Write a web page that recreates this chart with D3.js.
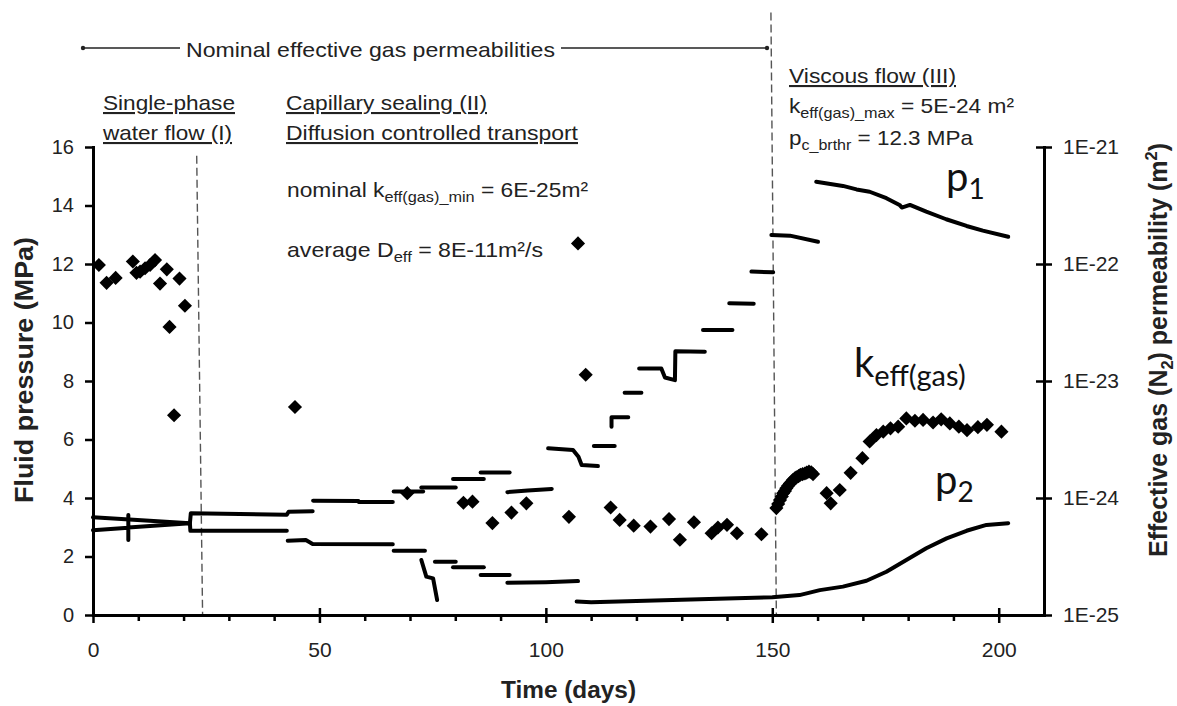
<!DOCTYPE html>
<html>
<head>
<meta charset="utf-8">
<script src="https://cdn.jsdelivr.net/npm/d3@7"></script>
<style>
	body{margin:0;background:#fff;}
	svg{display:block;font-family:Arial,"Liberation Sans",sans-serif;}
	.axis path,.axis line{stroke:#000;}
	.axis path{stroke-width:3;stroke-linecap:square;}
	.axis line{stroke-width:2.5;}
	.axis text{fill:#222;font-family:Arial,"Liberation Sans",sans-serif;}
	.note{fill:#222;}
	.big{fill:#111;font-family:Lato,"Open Sans",sans-serif;}
	.pline{fill:none;stroke:#000;stroke-width:4;stroke-linejoin:round;stroke-linecap:round;}
	.bound{stroke:#555;stroke-width:1.4;stroke-dasharray:8,4;}
</style>
</head>
<body>
<script>
(function(){

	//upstream pressure p1, one array per logged step [day, MPa]
	var p1Segments = [
		[[0,3.34],[21.4,3.14],[21.6,3.48],[42.8,3.43],[43.2,3.53],[48.5,3.55]],
		[[48.6,3.91],[58.6,3.90],[58.7,3.86],[66.2,3.86]],
		[[66.4,4.22],[72.9,4.22]],
		[[72.5,4.36],[80.1,4.36]],
		[[79.5,4.65],[86.3,4.65]],
		[[85.6,4.87],[92.0,4.87]],
		[[91.5,4.20],[96.0,4.26],[101.3,4.31]],
		[[100.5,5.70],[106.0,5.64],[107.2,5.41],[107.9,5.13],[111.5,5.09]],
		[[110.6,5.78],[115.2,5.78]],
		[[114.5,6.44],[114.5,6.76],[118.2,6.76]],
		[[117.4,7.60],[121.1,7.60]],
		[[120.6,8.43],[125.5,8.43],[126.3,8.12],[128.5,8.03],[128.6,9.02],[135.1,9.00]],
		[[134.7,9.74],[141.2,9.74]],
		[[140.5,10.66],[145.9,10.64]],
		[[145.4,11.74],[150.2,11.72]],
		[[149.8,12.99],[153.9,12.97],[160.1,12.76]],
		[[159.7,14.81],[165.6,14.67],[168.6,14.55],[171.5,14.47],[175.2,14.25],[178.1,14.02],[178.6,13.93],[180.4,14.02],[184.0,13.79],[188.4,13.53],[192.9,13.30],[196.5,13.14],[202.1,12.93]]
	];

	//downstream pressure p2
	var p2Segments = [
		[[0,2.90],[7.8,2.98],[7.8,2.56],[7.8,3.42],[7.8,2.99],[21.4,3.14],[21.5,2.88],[42.8,2.88]],
		[[43.0,2.54],[47.0,2.56],[48.5,2.43],[66.2,2.42]],
		[[66.4,2.20],[73.3,2.20]],
		[[72.5,1.88],[73.6,1.31],[75.1,1.25],[76.0,0.51]],
		[[75.5,1.82],[80.1,1.82]],
		[[79.5,1.63],[86.3,1.63]],
		[[85.6,1.37],[92.0,1.37]],
		[[91.5,1.10],[100.0,1.12],[107.1,1.16]],
		[[106.8,0.46],[110,0.44],[120,0.48],[130,0.52],[140,0.56],[150,0.61],[156,0.68],[160.5,0.85],[165.6,0.97],[170.8,1.17],[175.2,1.48],[179.6,1.88],[184.0,2.28],[188.5,2.62],[192.9,2.88],[197.3,3.08],[202.1,3.14]]
	];

	//effective gas permeability (m2), right axis
	var keffDays = [1.3,3.0,5.0,8.8,9.6,10.4,11.5,12.6,13.7,14.8,16.3,16.9,17.9,19.1,20.3,
		44.6,69.4,81.8,83.8,88.2,92.4,95.7,105.1,107.1,108.8,114.3,116.3,119.4,123.1,127.2,
		129.6,132.7,136.6,138.0,140.0,142.2,147.6,150.9,151.3,151.7,152.1,152.4,152.8,153.1,153.5,153.9,154.3,154.6,155.0,155.3,
		155.8,156.2,156.7,157.2,157.6,158.1,158.6,159.0,162.0,162.9,164.9,167.3,169.9,171.5,173.0,174.5,176.1,177.8,
		179.6,181.5,183.3,185.5,187.3,189.2,191.2,193.0,195.4,197.4,200.6];
	var keffValues = [9.8e-23,6.9e-23,7.6e-23,1.05e-22,8.4e-23,8.6e-23,9.2e-23,9.8e-23,1.08e-22,6.8e-23,9.0e-23,2.9e-23,5.1e-24,7.5e-23,4.4e-23,
		6.0e-24,1.1e-24,9.1e-25,9.3e-25,6.1e-25,7.5e-25,9.0e-25,6.9e-25,1.5e-22,1.13e-23,8.3e-25,6.5e-25,5.8e-25,5.7e-25,6.6e-25,
		4.4e-25,6.2e-25,5.0e-25,5.6e-25,5.9e-25,5.0e-25,4.9e-25,8.2e-25,8.9e-25,9.6e-25,1.03e-24,1.1e-24,1.15e-24,1.21e-24,1.27e-24,1.33e-24,1.38e-24,1.43e-24,1.47e-24,1.5e-24,
		1.54e-24,1.58e-24,1.6e-24,1.62e-24,1.65e-24,1.68e-24,1.66e-24,1.6e-24,1.1e-24,9.0e-25,1.17e-24,1.64e-24,2.19e-24,3.04e-24,3.45e-24,3.69e-24,3.94e-24,4.07e-24,
		4.79e-24,4.57e-24,4.65e-24,4.42e-24,4.7e-24,4.34e-24,4.07e-24,3.8e-24,4.03e-24,4.22e-24,3.69e-24];

	//ticks
	var xTicks = [0,50,100,150,200];
	var xMinorTicks = [10,20,30,40,60,70,80,90,110,120,130,140,160,170,180,190];
	var yLeftTicks = [0,2,4,6,8,10,12,14,16];
	var yRightTicks = [1e-25,1e-24,1e-23,1e-22,1e-21];

	//phase boundaries [day at top, MPa at top, day at bottom, MPa at bottom]
	var phaseBounds = [[22.9,15.7,24.2,0],[149.7,20.6,150.9,0]];

	var width = 1177,
		height = 706,
		left = 93,
		right = 1044,
		top = 147,
		bottom = 615;

	var svg = d3.select("body")
		.append("svg")
		.attr("width", width)
		.attr("height", height);

	var x = d3.scaleLinear().domain([0,210]).range([left,right]);
	var yL = d3.scaleLinear().domain([0,16]).range([bottom,top]);
	var yR = d3.scaleLog().domain([1e-25,1e-21]).range([bottom,top]);

	//dashed phase boundaries
	svg.selectAll(".bound")
		.data(phaseBounds)
		.enter()
		.append("line")
		.attr("class", "bound")
		.attr("x1", function(d){ return x(d[0]); })
		.attr("y1", function(d){ return yL(d[1]); })
		.attr("x2", function(d){ return x(d[2]); })
		.attr("y2", function(d){ return yL(d[3]); });

	//pressure lines
	var line = d3.line()
		.x(function(d){ return x(d[0]); })
		.y(function(d){ return yL(d[1]); });

	svg.selectAll(".p1")
		.data(p1Segments)
		.enter()
		.append("path")
		.attr("class", "pline p1")
		.attr("d", line);

	svg.selectAll(".p2")
		.data(p2Segments)
		.enter()
		.append("path")
		.attr("class", "pline p2")
		.attr("d", line);

	//permeability diamonds
	var diamond = d3.symbol().type(d3.symbolSquare).size(100);
	svg.selectAll(".keff")
		.data(keffDays)
		.enter()
		.append("path")
		.attr("class", "keff")
		.attr("d", diamond)
		.attr("fill", "#000")
		.attr("transform", function(d, i){
			return "translate(" + x(d) + "," + yR(keffValues[i]) + ") rotate(45)";
		});

	//x axis
	var xAxis = svg.append("g")
		.attr("class", "axis")
		.attr("transform", "translate(0," + bottom + ")")
		.call(d3.axisBottom(x).tickValues(xTicks).tickSize(8).tickSizeOuter(0).tickPadding(19));
	xAxis.selectAll(".tick line").attr("y1", -7);
	xAxis.selectAll("text").style("font-size", "21px");

	svg.append("g")
		.attr("class", "axis minor")
		.attr("transform", "translate(0," + bottom + ")")
		.call(d3.axisBottom(x).tickValues(xMinorTicks).tickSize(6).tickFormat(""))
		.select(".domain").remove();

	//left axis
	var leftAxis = svg.append("g")
		.attr("class", "axis")
		.attr("transform", "translate(" + left + ",0)")
		.call(d3.axisLeft(yL).tickValues(yLeftTicks).tickSize(8).tickSizeOuter(0).tickPadding(11));
	leftAxis.selectAll("text").style("font-size", "20px");

	//right axis
	var rightAxis = svg.append("g")
		.attr("class", "axis")
		.attr("transform", "translate(" + right + ",0)")
		.call(d3.axisRight(yR).tickValues(yRightTicks).tickSize(8).tickSizeOuter(0).tickPadding(11)
			.tickFormat(function(d){ return "1E" + Math.round(Math.log10(d)); }));
	rightAxis.selectAll(".tick line").attr("x1", -8);
	rightAxis.selectAll("text").style("font-size", "21px");

	//axis titles
	svg.append("text")
		.attr("x", (left + right) / 2)
		.attr("y", 698)
		.attr("text-anchor", "middle")
		.style("font-size", "23px")
		.style("font-weight", "bold")
		.attr("fill", "#222")
		.attr("textLength", 135)
		.attr("lengthAdjust", "spacingAndGlyphs")
		.text("Time (days)");

	svg.append("text")
		.attr("transform", "translate(33,370) rotate(-90)")
		.attr("text-anchor", "middle")
		.style("font-size", "26px")
		.style("font-weight", "bold")
		.attr("fill", "#222")
		.attr("textLength", 266)
		.attr("lengthAdjust", "spacingAndGlyphs")
		.text("Fluid pressure (MPa)");

	var rTitle = svg.append("text")
		.attr("transform", "translate(1167,350) rotate(-90)")
		.attr("text-anchor", "middle")
		.style("font-size", "26px")
		.style("font-weight", "bold")
		.attr("fill", "#222")
		.attr("textLength", 414)
		.attr("lengthAdjust", "spacingAndGlyphs");
	rTitle.append("tspan").text("Effective gas (N");
	rTitle.append("tspan").text("2").attr("dy", 6).style("font-size", "17px");
	rTitle.append("tspan").text(") permeability (m").attr("dy", -6);
	rTitle.append("tspan").text("2").attr("dy", -10).style("font-size", "17px");
	rTitle.append("tspan").text(")").attr("dy", 10);

	//rich text helper: parts are [text, shift down px, font size]
	function addText(px, py, parts, size, len, underline){
		var t = svg.append("text")
			.attr("class", "note")
			.attr("x", px)
			.attr("y", py)
			.style("font-size", size + "px");
		var shift = 0;
		parts.forEach(function(p){
			var s = p[1] || 0;
			var ts = t.append("tspan").text(p[0]);
			if(s - shift != 0) ts.attr("dy", s - shift);
			if(p[2]) ts.style("font-size", p[2] + "px");
			shift = s;
		});
		if(len) t.attr("textLength", len).attr("lengthAdjust", "spacingAndGlyphs");
		if(underline) t.style("text-decoration", "underline");
		return t;
	}

	//phase annotations
	addText(186, 57, [["Nominal effective gas permeabilities"]], 21, 369);
	addText(103, 110, [["Single-phase"]], 21, 132, true);
	addText(103, 140, [["water flow (I)"]], 21, 129, true);
	addText(286, 110, [["Capillary sealing (II)"]], 21, 201, true);
	addText(286, 140, [["Diffusion controlled transport"]], 21, 292, true);
	addText(287, 197, [["nominal k"],["eff(gas)_min",5,15],[" = 6E-25m\u00b2",0]], 21, 301);
	addText(287, 257, [["average D"],["eff",5,15],[" = 8E-11m\u00b2/s",0]], 21, 256);
	addText(789, 83, [["Viscous flow (III)"]], 21, 167, true);
	addText(789, 113, [["k"],["eff(gas)_max",5,15],[" = 5E-24 m\u00b2",0]], 21, 225);
	addText(789, 145, [["p"],["c_brthr",5,15],[" = 12.3 MPa",0]], 21, 184);

	//arrow spanning nominal permeability phases
	var arrowY = 48;
	[[83,180],[561,767]].forEach(function(s){
		svg.append("line")
			.attr("x1", s[0]).attr("x2", s[1])
			.attr("y1", arrowY).attr("y2", arrowY)
			.attr("stroke", "#222")
			.attr("stroke-width", 1.5);
	});
	[83,767].forEach(function(cx){
		svg.append("circle").attr("cx", cx).attr("cy", arrowY).attr("r", 2.2).attr("fill", "#222");
	});

	//series labels
	function bigLabel(px, py, main, sub, subSize, dy){
		var t = svg.append("text")
			.attr("class", "big")
			.attr("x", px)
			.attr("y", py)
			.style("font-size", "40px");
		t.append("tspan").text(main);
		t.append("tspan").text(sub).attr("dy", dy).style("font-size", subSize + "px");
	}
	bigLabel(946, 191, "p", "1", 28, 8);
	bigLabel(854, 377, "k", "eff(gas)", 29, 9);
	bigLabel(935, 494, "p", "2", 28, 8);

})();
</script>
</body>
</html>
